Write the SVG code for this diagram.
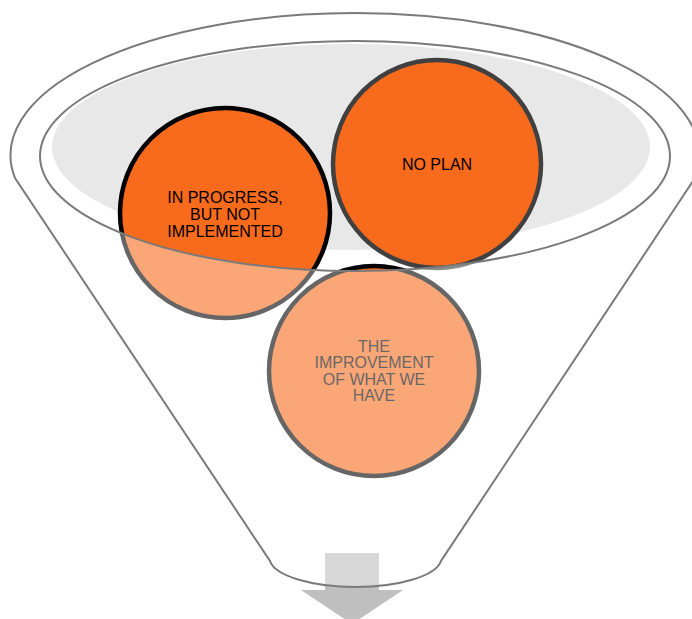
<svg xmlns="http://www.w3.org/2000/svg" width="692" height="619" viewBox="0 0 692 619">
  <style>
    .label { font-family: "Liberation Sans", Arial, sans-serif; font-size: 16px; fill: #000; text-anchor: middle; }
    .ball { fill: #f96b1c; stroke-width: 4.5; }
    .outline { fill: none; stroke: #7a7a7a; stroke-width: 2; }
  </style>

  <!-- back of the funnel opening -->
  <ellipse id="opening-back" cx="351" cy="147" rx="299" ry="103" fill="#e8e8e8"/>

  <!-- downward arrow under the spout -->
  <g id="output-arrow" fill="#bfbfbf">
    <rect x="325" y="553" width="54" height="37"/>
    <polygon points="301,590 403,590 352,624"/>
  </g>

  <g id="node-in-progress">
    <circle class="ball" cx="225" cy="213" r="105" stroke="#000"/>
    <text class="label" x="225" y="203">IN PROGRESS,</text>
    <text class="label" x="225" y="220">BUT NOT</text>
    <text class="label" x="225" y="237">IMPLEMENTED</text>
  </g>

  <g id="node-no-plan">
    <circle class="ball" cx="437" cy="164" r="104" stroke="#404040"/>
    <text class="label" x="437" y="170">NO PLAN</text>
  </g>

  <g id="node-improvement">
    <circle class="ball" cx="374" cy="371" r="105" stroke="#000"/>
    <text class="label" x="374" y="352">THE</text>
    <text class="label" x="374" y="368">IMPROVEMENT</text>
    <text class="label" x="374" y="385">OF WHAT WE</text>
    <text class="label" x="374" y="401">HAVE</text>
  </g>

  <!-- translucent funnel body in front of the balls -->
  <path id="funnel-front" fill="#fff" fill-opacity="0.4" fill-rule="evenodd"
        d="M15,178 A344.5,142 0 1 1 695,178 L441,561 A86,29 0 0 1 270,561 Z
           M40,156 A315,115 0 1 0 670,156 A315,115 0 1 0 40,156 Z"/>

  <g id="funnel-lines">
    <path class="outline" d="M15,178 A344.5,142 0 1 1 695,178 L441,561 A86,29 0 0 1 270,561 Z"/>
    <ellipse class="outline" cx="355" cy="156" rx="315" ry="115"/>
  </g>
</svg>
